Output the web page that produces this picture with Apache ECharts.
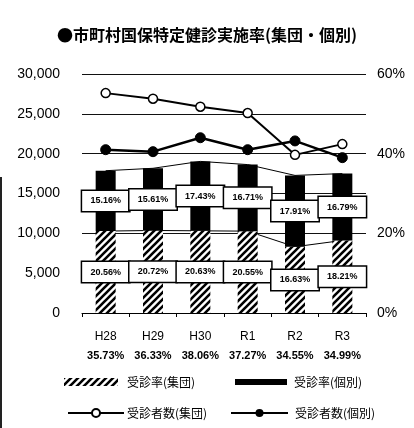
<!DOCTYPE html>
<html><head><meta charset="utf-8">
<script src="https://cdn.jsdelivr.net/npm/echarts@6/dist/echarts.min.js"></script>
<style>html,body{margin:0;padding:0;background:#fff}#c{width:414px;height:428px}</style>
</head><body><div id="c"></div>
<script>
const categories = ['H28','H29','H30','R1','R2','R3'];
const totalRates = ['35.73%','36.33%','38.06%','37.27%','34.55%','34.99%'];
const groupRate = [20.56, 20.72, 20.63, 20.55, 16.63, 18.21];
const indivRate = [15.16, 15.61, 17.43, 16.71, 17.91, 16.79];
const groupCount = [27600, 26900, 25900, 25100, 19850, 21200];
const indivCount = [20500, 20250, 22000, 20500, 21600, 19500];
const leftTicks = {min: 0, max: 30000, interval: 5000};
const rightTicks = {min: 0, max: 60, interval: 20};

function hatch(){
  const s = 7, c = document.createElement('canvas');
  c.width = s; c.height = s;
  const g = c.getContext('2d');
  g.fillStyle = '#fff'; g.fillRect(0,0,s,s);
  g.strokeStyle = '#000'; g.lineWidth = 2.6; g.lineCap = 'butt';
  g.beginPath();
  g.moveTo(-2, s+2); g.lineTo(s+2, -2);
  g.moveTo(-2, 2); g.lineTo(2, -2);
  g.moveTo(s-2, s+2); g.lineTo(s+2, s-2);
  g.stroke();
  return c;
}
const pattern = {image: hatch(), repeat: 'repeat'};
const stackTop1 = groupRate.slice();
const stackTop2 = groupRate.map((v,i)=> +(v + indivRate[i]).toFixed(2));

const boxLabel = {
  show: true, position: 'inside', color: '#000',
  fontFamily: 'Liberation Sans', fontWeight: 'bold', fontSize: 9,
  backgroundColor: '#fff', borderColor: '#000', borderWidth: 1.5,
  width: 37, align: 'center', lineHeight: 12, padding: [4,5],
  formatter: p => p.value.toFixed(2) + '%'
};
const FONT = 'Liberation Sans';
const chart = echarts.init(document.getElementById('c'));
chart.setOption({
  animation: false,
  backgroundColor: '#fff',
  title: {
    text: '●市町村国保特定健診実施率(集団・個別)',
    left: 'center', top: 22,
    textStyle: {fontFamily: 'Noto Sans CJK JP', fontWeight: 'bold', fontSize: 16, color: '#000'}
  },
  grid: {left: 82, right: 48, top: 74, bottom: 115},
  legend: [
    {data: [{name:'受診率(集団)', icon:'rect'}], left: 64, top: 376, padding: 0, itemWidth: 54, itemHeight: 8, itemGap: 0,
     textStyle: {fontSize: 12, color: '#000', fontFamily: 'Noto Sans CJK JP', padding:[0,0,0,4]}},
    {data: [{name:'受診率(個別)', icon:'rect'}], left: 235, top: 376, padding: 0, itemWidth: 52, itemHeight: 6, itemGap: 0,
     textStyle: {fontSize: 12, color: '#000', fontFamily: 'Noto Sans CJK JP', padding:[0,0,0,2]}},
    {data: ['受診者数(集団)'], left: 67, top: 407, padding: 0, itemWidth: 56, itemHeight: 10, itemGap: 0,
     textStyle: {fontSize: 12, color: '#000', fontFamily: 'Noto Sans CJK JP', padding:[0,0,0,-2]}},
    {data: ['受診者数(個別)'], left: 230, top: 407, padding: 0, itemWidth: 57, itemHeight: 10, itemGap: 0,
     textStyle: {fontSize: 12, color: '#000', fontFamily: 'Noto Sans CJK JP', padding:[0,0,0,2]}}
  ],
  xAxis: {
    type: 'category', data: categories,
    axisLine: {lineStyle: {color: '#000', width: 1}},
    axisTick: {show: true, length: 4, lineStyle: {color: '#000'}},
    axisLabel: {
      interval: 0, margin: 14, color: '#000',
      formatter: (v, i) => '{a|' + v + '}\n{b|' + totalRates[i] + '}',
      rich: {
        a: {fontFamily: FONT, fontSize: 12, lineHeight: 19, color: '#000'},
        b: {fontFamily: FONT, fontSize: 11, fontWeight: 'bold', lineHeight: 19, color: '#000'}
      }
    }
  },
  yAxis: [
    {type: 'value', min: leftTicks.min, max: leftTicks.max, interval: leftTicks.interval,
     axisLine: {show: false}, axisTick: {show: false},
     splitLine: {show: true, lineStyle: {color: '#111', width: 1}},
     axisLabel: {margin: 22, color: '#000', fontFamily: FONT, fontSize: 14,
       formatter: v => v.toLocaleString('en-US')}},
    {type: 'value', min: rightTicks.min, max: rightTicks.max, interval: rightTicks.interval,
     axisLine: {show: false}, axisTick: {show: false}, splitLine: {show: false},
     axisLabel: {margin: 11, color: '#000', fontFamily: FONT, fontSize: 14, formatter: '{value}%'}}
  ],
  graphic: [{type: 'rect', left: 0, top: 177, shape: {width: 2, height: 251}, style: {fill: '#222'}}],
  series: [
    {name: '受診率(集団)', type: 'bar', yAxisIndex: 1, stack: 'rate', barWidth: 20, z: 3,
     itemStyle: {color: pattern}, label: boxLabel, data: groupRate},
    {name: '受診率(個別)', type: 'bar', yAxisIndex: 1, stack: 'rate', barWidth: 20, z: 3,
     itemStyle: {color: '#000'}, label: boxLabel, data: indivRate},
    {name: 'sl1', type: 'line', yAxisIndex: 1, z: 1, symbol: 'none', silent: true,
     lineStyle: {color: '#000', width: 1}, data: stackTop1},
    {name: 'sl2', type: 'line', yAxisIndex: 1, z: 1, symbol: 'none', silent: true,
     lineStyle: {color: '#000', width: 1}, data: stackTop2},
    {name: '受診者数(集団)', type: 'line', yAxisIndex: 0, z: 5, symbol: 'circle', symbolSize: 9,
     lineStyle: {color: '#000', width: 2},
     itemStyle: {color: '#fff', borderColor: '#000', borderWidth: 1.5}, data: groupCount},
    {name: '受診者数(個別)', type: 'line', yAxisIndex: 0, z: 5, symbol: 'circle', symbolSize: 10,
     lineStyle: {color: '#000', width: 2.5},
     itemStyle: {color: '#000', borderColor: '#000'}, data: indivCount}
  ]
});
</script></body></html>
